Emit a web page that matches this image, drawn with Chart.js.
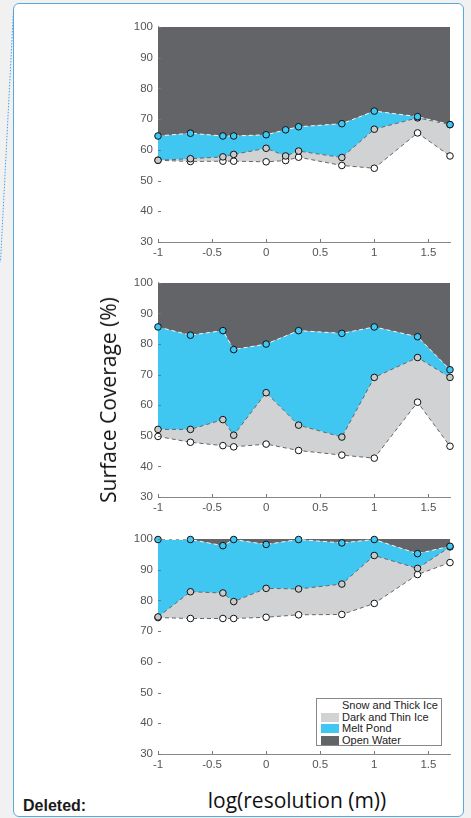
<!DOCTYPE html>
<html lang="en">
<head>
<meta charset="UTF-8">
<title>Surface Coverage vs Resolution</title>
<script src="https://cdn.jsdelivr.net/npm/chart.js"></script>
<style>
    body {
        margin: 0;
        width: 471px;
        height: 818px;
        background: #f1f1f1;
        position: relative;
        overflow: hidden;
        font-family: 'Liberation Sans', Arial, sans-serif;
    }
    .frame {
        position: absolute;
        left: 13px;
        top: 3px;
        width: 449px;
        height: 812px;
        background: #fff;
        border: 1.5px solid #5aa8e0;
        border-radius: 6px;
    }
    .panel {
        position: absolute;
        left: 100px;
        width: 360px;
    }
    .ytitle {
        position: absolute;
        left: 108px;
        top: 400px;
        transform: translate(-50%, -50%) rotate(-90deg);
        font-family: 'Open Sans', sans-serif;
        font-size: 21px;
        color: #111;
        white-space: nowrap;
    }
    .xtitle {
        position: absolute;
        left: 297px;
        top: 800px;
        transform: translate(-50%, -50%);
        font-family: 'Open Sans', sans-serif;
        font-size: 21px;
        color: #111;
        white-space: nowrap;
    }
    .deleted {
        position: absolute;
        left: 23px;
        top: 797px;
        font-weight: bold;
        font-size: 16px;
        color: #1a1a1a;
    }
    .legend {
        position: absolute;
        left: 316px;
        top: 698px;
        width: 126px;
        height: 48px;
        border: 1px solid #888;
        background: #fff;
        font-size: 11px;
        color: #222;
        box-sizing: border-box;
        padding-top: 1px;
    }
    .legend div {
        height: 11.5px;
        line-height: 11.5px;
        white-space: nowrap;
    }
    .legend span {
        display: inline-block;
        width: 18px;
        height: 9px;
        margin: 0 3px 0 4px;
        vertical-align: -1px;
    }
</style>
</head>
<body>
<div class="frame"></div>
<svg style="position:absolute;left:0;top:0" width="20" height="270">
    <line x1="13.5" y1="10" x2="0.5" y2="262" stroke="#4a9fe0" stroke-width="1" stroke-dasharray="1.5 1.5"/>
</svg>

<canvas class="panel" id="chart1" width="360" height="245" style="top:15px"></canvas>
<canvas class="panel" id="chart2" width="360" height="244" style="top:271px"></canvas>
<canvas class="panel" id="chart3" width="360" height="245" style="top:527px"></canvas>

<div class="ytitle">Surface Coverage (%)</div>
<div class="xtitle">log(resolution (m))</div>
<div class="deleted">Deleted:</div>
<div class="legend" id="legend"></div>

<script>
// log10 of resolution
const logRes1 = [-1, -0.7, -0.4, -0.3, 0, 0.18, 0.3, 0.7, 1, 1.4, 1.7];
const logRes = [-1, -0.7, -0.4, -0.3, 0, 0.3, 0.7, 1, 1.4, 1.7];

// cumulative boundaries (%), top of each class
const snowTop1 = [56.6, 56.2, 56.3, 56.3, 56.1, 56.5, 57.6, 54.9, 54.0, 65.5, 58.0];
const thinTop1 = [56.6, 57.1, 57.7, 58.5, 60.5, 58.0, 59.6, 57.5, 66.7, 70.4, 68.2];
const pondTop1 = [64.5, 65.4, 64.5, 64.5, 64.9, 66.5, 67.5, 68.5, 72.6, 70.8, 68.2];

const snowTop2 = [49.8, 47.9, 46.8, 46.4, 47.3, 45.2, 43.7, 42.7, 61.0, 46.6];
const thinTop2 = [52.1, 52.1, 55.3, 50.2, 64.1, 53.5, 49.6, 69.1, 75.6, 69.1];
const pondTop2 = [85.6, 82.9, 84.4, 78.2, 80.0, 84.4, 83.5, 85.6, 82.4, 71.6];

const snowTop3 = [74.4, 74.1, 74.1, 74.1, 74.5, 75.3, 75.4, 79.0, 88.4, 92.3];
const thinTop3 = [74.6, 82.8, 82.4, 79.6, 83.9, 83.7, 85.3, 94.6, 90.4, 97.4];
const pondTop3 = [99.8, 99.8, 97.8, 99.8, 98.2, 99.8, 98.7, 99.8, 95.2, 97.6];

const xTicks = [-1, -0.5, 0, 0.5, 1, 1.5];
const yTicks = [30, 40, 50, 60, 70, 80, 90, 100];

const classNames = ['Open Water', 'Melt Pond', 'Dark and Thin Ice', 'Snow and Thick Ice'];
const classColors = ['#636467', '#3fc6f1', '#d1d2d4', '#ffffff'];

function pts(xs, ys) {
    return xs.map((x, i) => ({ x: x, y: ys[i] }));
}

// small inward tick marks like the original
const innerTicks = {
    id: 'innerTicks',
    afterDraw(chart) {
        const ctx = chart.ctx, a = chart.chartArea;
        const sx = chart.scales.x, sy = chart.scales.y;
        ctx.save();
        ctx.strokeStyle = '#777';
        ctx.lineWidth = 1;
        ctx.beginPath();
        xTicks.forEach(v => {
            const px = Math.round(sx.getPixelForValue(v)) + 0.5;
            ctx.moveTo(px, a.bottom);
            ctx.lineTo(px, a.bottom - 3);
        });
        yTicks.forEach(v => {
            const py = Math.round(sy.getPixelForValue(v)) + 0.5;
            ctx.moveTo(a.left, py);
            ctx.lineTo(a.left + 3, py);
        });
        ctx.stroke();
        ctx.restore();
    }
};

function makeChart(id, xs, snow, thin, pond) {
    new Chart(document.getElementById(id), {
        type: 'line',
        data: {
            datasets: [
                {
                    label: classNames[0],
                    data: pts(xs, pond),
                    fill: 'end',
                    backgroundColor: classColors[0],
                    borderWidth: 0,
                    pointRadius: 0
                },
                {
                    label: classNames[1],
                    data: pts(xs, pond),
                    fill: '+1',
                    backgroundColor: classColors[1],
                    borderColor: '#f4f4f4',
                    borderWidth: 1,
                    borderDash: [4, 3],
                    pointRadius: 3.3,
                    pointBackgroundColor: classColors[1],
                    pointBorderColor: '#111',
                    pointBorderWidth: 1,
                    clip: false
                },
                {
                    label: classNames[2],
                    data: pts(xs, thin),
                    fill: '+1',
                    backgroundColor: classColors[2],
                    borderColor: '#666',
                    borderWidth: 1,
                    borderDash: [4, 3],
                    pointRadius: 3.3,
                    pointBackgroundColor: '#c9cacc',
                    pointBorderColor: '#111',
                    pointBorderWidth: 1,
                    clip: false
                },
                {
                    label: classNames[3],
                    data: pts(xs, snow),
                    fill: 'start',
                    backgroundColor: classColors[3],
                    borderColor: '#666',
                    borderWidth: 1,
                    borderDash: [4, 3],
                    pointRadius: 3.3,
                    pointBackgroundColor: '#ffffff',
                    pointBorderColor: '#111',
                    pointBorderWidth: 1,
                    clip: false
                }
            ]
        },
        options: {
            responsive: false,
            animation: false,
            events: [],
            layout: { padding: { top: 10, right: 10, bottom: 0, left: 0 } },
            elements: { line: { tension: 0 } },
            plugins: {
                legend: { display: false },
                tooltip: { enabled: false },
                filler: { drawTime: 'beforeDatasetsDraw' }
            },
            scales: {
                x: {
                    type: 'linear',
                    min: -1,
                    max: 1.7,
                    afterBuildTicks: s => { s.ticks = xTicks.map(v => ({ value: v })); },
                    afterFit: s => { s.height = 18; },
                    grid: { drawOnChartArea: false, drawTicks: false },
                    border: { display: true, color: '#888', width: 1 },
                    ticks: {
                        padding: 4,
                        maxRotation: 0,
                        autoSkip: false,
                        color: '#555',
                        font: { family: 'Liberation Sans', size: 11.5 },
                        callback: v => String(v)
                    }
                },
                y: {
                    min: 30,
                    max: 100,
                    afterBuildTicks: s => { s.ticks = yTicks.map(v => ({ value: v })); },
                    afterFit: s => { s.width = 58; },
                    grid: { drawOnChartArea: false, drawTicks: false },
                    border: { display: true, color: '#888', width: 1 },
                    ticks: {
                        padding: 5,
                        color: '#555',
                        font: { family: 'Liberation Sans', size: 11.5 },
                        callback: v => String(v)
                    }
                }
            }
        },
        plugins: [innerTicks]
    });
}

makeChart('chart1', logRes1, snowTop1, thinTop1, pondTop1);
makeChart('chart2', logRes, snowTop2, thinTop2, pondTop2);
makeChart('chart3', logRes, snowTop3, thinTop3, pondTop3);

// legend (reverse order: bottom class first)
const legend = document.getElementById('legend');
for (let i = classNames.length - 1; i >= 0; i--) {
    const row = document.createElement('div');
    row.innerHTML = '<span style="background:' + classColors[i] + '"></span>' + classNames[i];
    legend.appendChild(row);
}
</script>
</body>
</html>
